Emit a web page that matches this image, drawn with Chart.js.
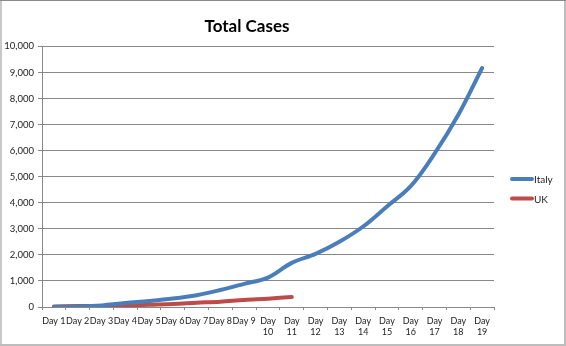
<!DOCTYPE html>
<html>
<head>
<meta charset="utf-8">
<script src="https://cdn.jsdelivr.net/npm/chart.js@4/dist/chart.umd.min.js"></script>
<style>
  html, body { margin: 0; padding: 0; background: #fff; }
  #wrap { width: 566px; height: 346px; position: relative; }
</style>
</head>
<body>
<div id="wrap"><canvas id="casesChart" width="566" height="346"></canvas></div>
<script>
// category labels, two-digit days wrap onto a second line
const days = ['Day 1', 'Day 2', 'Day 3', 'Day 4', 'Day 5', 'Day 6', 'Day 7', 'Day 8', 'Day 9',
  ['Day', '10'], ['Day', '11'], ['Day', '12'], ['Day', '13'], ['Day', '14'], ['Day', '15'],
  ['Day', '16'], ['Day', '17'], ['Day', '18'], ['Day', '19']];

// cumulative case counts per day
const italyCases = [3, 20, 62, 155, 229, 322, 453, 655, 888, 1128, 1694, 2036, 2502, 3089, 3858, 4636, 5883, 7375, 9172];
const ukCases = [23, 36, 40, 51, 85, 115, 163, 206, 273, 321, 382];

const yTicks = [0, 1000, 2000, 3000, 4000, 5000, 6000, 7000, 8000, 9000, 10000];

const FONT = 'Lato, "Open Sans", sans-serif';

// outer frame like a spreadsheet chart object
const framePlugin = {
  id: 'frame',
  beforeDraw(chart) {
    const ctx = chart.ctx;
    ctx.save();
    ctx.fillStyle = '#fff';
    ctx.fillRect(0, 0, chart.width, chart.height);
    ctx.fillStyle = '#c8c8c8';
    ctx.fillRect(0, 0, 2, chart.height);
    ctx.fillStyle = '#bdbdbd';
    ctx.fillRect(chart.width - 2, 0, 2, chart.height);
    ctx.fillRect(0, chart.height - 2, chart.width, 2);
    ctx.fillStyle = '#8a8a8a';
    ctx.fillRect(0, 0, chart.width, 1);
    ctx.restore();
  }
};

// legend on the right: short thick line sample then the series name
const sideLegend = {
  id: 'sideLegend',
  afterDraw(chart) {
    const ctx = chart.ctx;
    const x0 = chart.chartArea.right + 17;
    const y0 = 179;
    ctx.save();
    ctx.font = '10px ' + FONT;
    ctx.textBaseline = 'middle';
    chart.data.datasets.forEach((ds, i) => {
      const y = y0 + i * 19.5;
      ctx.strokeStyle = ds.borderColor;
      ctx.lineWidth = 4;
      ctx.lineCap = 'round';
      ctx.beginPath();
      ctx.moveTo(x0 + 1, y);
      ctx.lineTo(x0 + 21, y);
      ctx.stroke();
      ctx.fillStyle = '#222';
      ctx.fillText(ds.label, x0 + 23, y + 1);
    });
    ctx.restore();
  }
};

const ctx = document.getElementById('casesChart').getContext('2d');
new Chart(ctx, {
  type: 'line',
  data: {
    labels: days,
    datasets: [
      {
        label: 'Italy',
        data: italyCases,
        borderColor: '#4a7ebb',
        backgroundColor: '#4a7ebb',
        borderWidth: 4,
        pointRadius: 0,
        tension: 0.35,
        borderCapStyle: 'round'
      },
      {
        label: 'UK',
        data: ukCases,
        borderColor: '#be4b48',
        backgroundColor: '#be4b48',
        borderWidth: 4,
        pointRadius: 0,
        tension: 0.35,
        borderCapStyle: 'round'
      }
    ]
  },
  options: {
    responsive: false,
    animation: false,
    layout: { padding: { top: 0, right: 72, bottom: 0, left: 0 } },
    plugins: {
      legend: { display: false },
      tooltip: { enabled: false },
      title: {
        display: true,
        text: 'Total Cases',
        color: '#000',
        font: { family: FONT, size: 17, weight: 'bold' },
        padding: { top: 16, bottom: 10 }
      }
    },
    scales: {
      x: {
        offset: true,
        afterFit: scale => { scale.height = 39; },
        grid: {
          offset: true,
          drawOnChartArea: false,
          drawTicks: true,
          tickLength: 3,
          color: '#888'
        },
        border: { color: '#888' },
        ticks: {
          autoSkip: false,
          maxRotation: 0,
          minRotation: 0,
          padding: 5,
          color: '#222',
          font: { family: FONT, size: 9, lineHeight: 1.3 }
        }
      },
      y: {
        min: 0,
        max: 10000,
        afterFit: scale => { scale.width = 42; },
        afterBuildTicks: scale => { scale.ticks = yTicks.map(v => ({ value: v })); },
        grid: { color: '#888', tickLength: 4 },
        border: { color: '#888' },
        ticks: {
          padding: 4,
          color: '#222',
          font: { family: FONT, size: 9.5 },
          callback: v => v.toLocaleString('en-US')
        }
      }
    }
  },
  plugins: [framePlugin, sideLegend]
});
</script>
</body>
</html>
